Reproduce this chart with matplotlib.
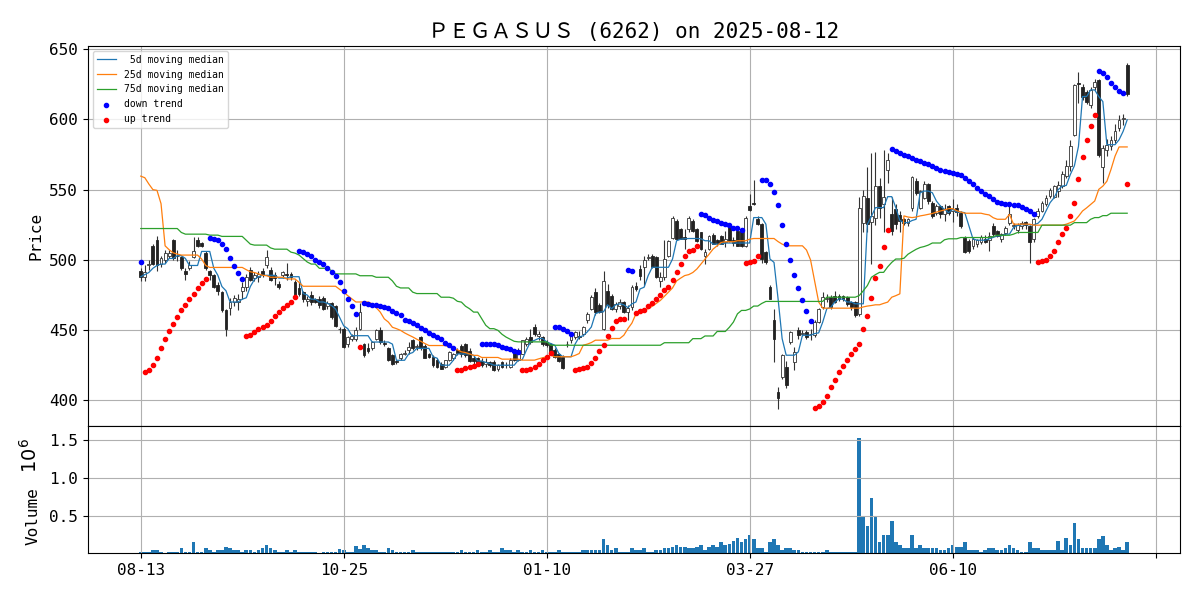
import numpy as np
import pandas as pd
import matplotlib
matplotlib.use("Agg")
import matplotlib.pyplot as plt

# ---------------- data ----------------
open_ = [
    492, 488, 496, 510, 514, 497, 500, 503, 514, 503,
    502, 492, 494, 502, 514, 512, 505, 492, 489, 482,
    477, 464, 466, 470, 470, 478, 481, 493, 487, 488,
    492, 496, 493, 489, 483, 489, 490, 490, 484, 480,
    477, 471, 475, 472, 472, 473, 467, 469, 467, 451,
    451, 440, 444, 444, 451, 440, 437, 437, 444, 450,
    441, 437, 432, 428, 430, 433, 436, 443, 438, 445,
    439, 433, 431, 428.5, 425.5, 424, 429, 430, 436, 439,
    440, 435, 430, 429.8, 428, 426, 427, 427.4, 422.2, 427.4,
    425, 424, 434.5, 428.6, 433.3, 440, 445, 452, 446, 445,
    441.6, 440.4, 435.7, 433, 431, 440, 443, 445, 446, 447.5,
    456.9, 465.2, 477, 467.5, 451, 478, 474.6, 465.2, 467, 469.9,
    463, 466.3, 481.7, 493.5, 495, 501, 503, 502, 485.2, 487.6,
    502.9, 515.9, 527.7, 522.3, 516, 521.8, 527.7, 522.3, 519.5, 503,
    507.7, 517.6, 514, 517, 513, 524, 514, 520.6, 521.8, 510,
    538.4, 540.7, 529.4, 525.4, 505.3, 480.5, 456.9, 406.2, 416.8, 423.9,
    441.6, 427.4, 449.8, 447, 448.6, 447, 446.3, 455.7, 466.3, 472,
    473.4, 474, 474.6, 474, 473.4, 469.9, 469.9, 461.6, 526.5, 544.3,
    527, 530, 552.5, 540, 564.3, 532.4, 536, 532, 528.9, 526.5,
    537.2, 556.5, 537.2, 544.3, 554.2, 540.7, 533.6, 538.3, 533, 538,
    535, 537, 533.6, 515.9, 513.6, 510, 511, 513, 515, 514,
    524.2, 520.6, 514.7, 519, 526.5, 524, 521, 524, 527, 524.2,
    514.7, 531.3, 535, 539.5, 545.5, 545, 549, 552.5, 560, 566.7,
    589.1, 625.7, 623.3, 619.8, 610.3, 623.3, 628, 566, 578, 580.8,
    585.5, 593.8, 600, 638.5,
]
high = [
    494, 496, 500, 511, 517, 503, 507, 507, 515, 507,
    503, 494, 499, 516, 516, 513, 506, 493, 490, 484,
    478, 465, 473, 475, 476, 484, 490, 495, 491, 492,
    494, 507, 495, 491, 485, 492, 498, 491, 486, 484,
    478, 474, 478, 473, 474, 474, 471, 470, 468, 452,
    452, 446, 447, 452, 469, 441, 441, 442, 451, 452,
    443, 438, 433, 429, 434, 436, 441.5, 444, 440, 446,
    440, 434, 432, 430, 427, 429, 435, 434, 437, 440,
    441, 437, 432, 431, 430, 430, 428, 429, 426, 428,
    427, 430, 436, 437, 443, 445, 451, 454, 449, 446,
    443, 441, 437, 434, 432, 442, 447, 449, 449, 453,
    463, 475, 480, 469, 492.3, 483, 476, 470, 472, 471,
    468, 482, 484, 496, 503, 504, 504, 503, 491, 514,
    514, 531, 529, 523, 522, 531, 529, 523, 520, 508,
    518, 519, 515, 518, 520.6, 525, 516, 522, 523, 531,
    546.6, 557.2, 531, 526, 506, 482, 465, 409.7, 433, 428,
    449, 438, 452, 450, 450, 451, 457, 466, 477, 476,
    475, 478, 476, 475, 474, 471, 471, 545, 550, 566,
    576, 577, 558, 578, 576, 545, 540, 535, 530, 530,
    560, 558, 550, 556, 555, 542, 540, 539, 540, 539,
    543, 540, 535, 517, 515, 516, 515, 518, 518, 520,
    526, 521, 519, 524, 539.5, 526, 526, 528, 528, 525,
    530, 537, 542, 546, 551, 553, 556, 563, 571, 585,
    625, 634, 625, 621, 623, 629, 629, 582, 586, 588,
    597, 603, 604, 640,
]
low = [
    485, 485, 493, 496, 492, 495, 498, 501, 500, 499,
    493, 486, 493, 501, 509, 509, 493, 486, 480, 475,
    463, 446, 461, 467, 464, 472, 478, 485, 485, 484,
    488, 494, 485, 482, 479, 487, 486, 486, 473, 474,
    470, 467, 468, 469, 466, 464, 465, 458, 452, 448,
    437, 438, 442, 442, 450, 431, 434, 436, 443, 440,
    439, 428, 425, 426, 429, 432, 433, 436, 436, 436,
    430, 430, 424, 423, 422, 423, 428, 429, 432, 431,
    431, 427, 426, 425, 424, 424, 424, 421, 421, 423,
    423, 423, 428, 428, 433, 439, 440, 446, 443, 439,
    438, 432, 430, 427, 422, 438, 441, 444, 444, 446,
    455, 464, 461, 462, 450, 466, 464, 463, 465, 462,
    457, 464, 478, 486, 481.7, 500, 494, 487, 481, 486,
    502, 515, 514, 515, 508, 520, 520, 513, 507, 497,
    507, 511, 510, 511, 508.8, 513, 510, 510, 509, 509,
    535, 539, 525, 498, 497, 472, 427.4, 394, 415, 409,
    440, 421.5, 444, 446, 444, 442.7, 445, 455, 465, 470,
    465, 469, 471, 471, 467, 464, 459, 460, 520, 520,
    497, 525, 530, 520, 555, 518, 522, 520, 525, 524,
    535, 546, 536, 543, 540, 530, 532, 530, 528, 532,
    527, 531, 523, 505, 505, 508, 509, 511, 512, 506,
    517, 516, 513, 518, 525, 522, 519, 522, 522, 498,
    513, 530, 534, 538, 544, 544, 545, 551, 558, 563,
    588, 611.5, 614, 611, 608, 621, 573, 555, 574, 578,
    583, 592, 596, 617,
]
close = [
    488, 491, 497, 497, 496, 501, 505, 505, 501, 503,
    494, 490, 496, 506, 510, 510, 494, 489, 481, 478,
    464, 451, 470, 473, 472, 481, 488, 486, 489, 490,
    489, 502, 486, 487, 481, 491, 489, 488, 475, 476,
    472, 472, 470, 470, 467.5, 465, 469, 459, 453, 451,
    438, 445, 446, 450, 463, 432, 435, 441.5, 450, 441.5,
    440, 428.5, 426, 427, 433, 434, 438, 437, 439, 437,
    430, 431, 425, 424, 422.6, 428.5, 434.5, 433, 434, 433,
    432, 428, 428, 426.2, 425, 427, 425, 421.5, 425, 424,
    425, 429, 428.6, 435.7, 442.7, 444, 441.6, 447.5, 447, 440.4,
    439.2, 433.3, 431, 428, 422.7, 440, 446, 448.7, 445, 452.2,
    461.6, 473.4, 462.8, 463, 485, 468, 465.2, 468.7, 470, 462.8,
    466, 480.5, 479.3, 488.8, 500, 502, 494.7, 487.6, 487.6, 500.6,
    513.6, 530.1, 514.7, 515.2, 515, 530, 520.6, 513.6, 507.7, 505.8,
    517.1, 511.2, 512, 511, 515, 513.6, 512, 510, 510, 530.1,
    535.5, 539.5, 525.4, 500.6, 498.2, 472.3, 443.9, 401.4, 432.1, 410.9,
    448.6, 434.5, 446.3, 448, 445.1, 447.5, 455.7, 465.2, 473.4, 473,
    466.3, 470, 472.2, 472, 468.7, 466.3, 461, 537.2, 545.5, 525.4,
    531, 552.5, 537.2, 545, 571.4, 520.6, 525.4, 528, 526.5, 528.9,
    558.9, 547.8, 549, 554.2, 541.9, 531.3, 538.3, 532.4, 536, 533.6,
    536, 534, 524.2, 505.3, 506.5, 515, 514, 516, 513, 517,
    518.3, 517.1, 518.3, 523, 532.4, 525, 524.5, 526, 525, 512.4,
    528.9, 534.8, 540.7, 544.3, 550, 552.5, 553, 560.8, 567, 580.8,
    624.5, 625, 616.3, 612.7, 621, 626.9, 575, 579.6, 582, 585.5,
    591.5, 599.7, 601, 618,
]
volume_k = [
    30, 30, 20, 45, 45, 30, 10, 20, 30, 20,
    70, 30, 30, 150, 30, 30, 70, 45, 30, 45,
    55, 95, 70, 55, 55, 30, 45, 45, 20, 45,
    70, 110, 70, 45, 30, 30, 45, 30, 45, 20,
    20, 20, 30, 20, 10, 20, 20, 20, 30, 65,
    50, 30, 30, 100, 65, 120, 70, 45, 55, 30,
    30, 70, 45, 30, 20, 20, 30, 45, 20, 20,
    30, 20, 30, 30, 30, 30, 30, 30, 20, 45,
    30, 20, 20, 45, 20, 20, 45, 30, 30, 80,
    55, 45, 30, 45, 30, 30, 45, 30, 30, 45,
    30, 30, 30, 45, 30, 30, 20, 20, 30, 45,
    45, 45, 50, 50, 200, 110, 50, 80, 30, 30,
    30, 70, 45, 45, 70, 30, 30, 55, 55, 80,
    70, 95, 110, 95, 95, 70, 80, 95, 110, 55,
    95, 120, 95, 150, 120, 135, 170, 210, 160, 200,
    250, 190, 80, 70, 30, 160, 200, 120, 55, 80,
    80, 55, 45, 30, 20, 30, 30, 30, 30, 55,
    20, 30, 30, 20, 20, 30, 30, 1530, 500, 360,
    730, 500, 150, 250, 250, 435, 150, 110, 80, 80,
    250, 80, 110, 70, 80, 70, 80, 55, 45, 70,
    110, 95, 95, 160, 45, 45, 45, 30, 45, 70,
    70, 45, 55, 80, 120, 70, 45, 20, 20, 160,
    70, 70, 55, 45, 55, 55, 170, 45, 210, 120,
    410, 200, 70, 70, 80, 70, 200, 240, 110, 45,
    70, 95, 55, 160,
]
med25 = [
    559.6, 558.5, 554, 550, 549.5, 540, 510, 507.2, 505, 504.1,
    503.4, 503.4, 503.4, 503.4, 503.4, 500.6, 496, 494.6, 494.6, 494.6,
    494.6, 494.6, 494.6, 494.6, 494.6, 494.6, 493, 491.5, 491, 490,
    489, 488.7, 487.6, 487.6, 487.6, 487.6, 486.4, 486.4, 486.4, 484,
    481.2, 481.2, 481.2, 481.2, 481.2, 481.2, 481.2, 481.2, 481.2, 479,
    477, 474.5, 472.2, 470, 470, 470, 470, 468.7, 466, 462.8,
    458, 455.7, 452, 451, 449.8, 448, 446.5, 445.1, 443.5, 442,
    440.4, 439, 439, 439, 439, 439, 438, 437, 436, 434.5,
    434, 433, 432, 432, 430.5, 430.5, 430.5, 430.5, 430.5, 429.3,
    429.3, 429.3, 429.3, 429.3, 428.6, 428.6, 428.6, 428.6, 429.5, 430.3,
    431, 432.1, 431, 431, 431, 431, 431, 432, 433.3, 439.2,
    440, 441.1, 442.8, 442.8, 442.8, 442.8, 444, 444, 444, 446.3,
    451, 455, 461.6, 463, 464.5, 465.2, 467, 469, 471.1, 474,
    477, 480, 485, 487, 488.8, 489.5, 491, 493.5, 497, 500.6,
    504, 507.7, 510, 512.4, 512.9, 512.9, 512.9, 513.6, 513.6, 513.6,
    514.7, 515.2, 515.2, 515.2, 515.2, 515.2, 515.2, 513, 511.2, 510,
    510, 510, 510, 510, 507, 500, 485, 470, 465.6, 465.6,
    465.6, 465.6, 465.6, 465.6, 465.6, 465.6, 465.6, 465.6, 466.5, 467.1,
    467.5, 468, 468, 469, 469.9, 473.4, 474.5, 475.8, 531.3, 530.5,
    530.1, 530.5, 531.3, 531.8, 532.4, 533, 534, 534.8, 535.5, 536.5,
    536.5, 535, 534.1, 533.2, 533.2, 533.2, 533.2, 533.2, 532.5, 532,
    530, 528.9, 528.9, 528.9, 532.4, 525.4, 525.4, 525.4, 525.4, 525.4,
    524.7, 524.7, 524.7, 524.7, 524.7, 524.7, 524.7, 524.7, 525.4, 526.5,
    527.7, 531, 534.8, 537, 539.5, 541.9, 550.2, 552.5, 556, 564.3,
    573.8, 580.4, 580.4, 580.4,
]
med75 = [
    522.3, 522.3, 522.3, 522.3, 522.3, 522.3, 522.3, 522.3, 522.3, 522.3,
    519.5, 518.3, 518.3, 518.3, 518.3, 518.3, 518.3, 517.6, 517.6, 517.6,
    516.7, 516.7, 516.7, 516.7, 516.7, 516.7, 514, 511.2, 510.5, 510.5,
    510.5, 510.5, 508.5, 507.6, 507.6, 507.6, 507.6, 505.5, 504.8, 503.4,
    501, 498.5, 497, 497, 494, 494, 494, 492.3, 490, 490,
    490, 490, 490, 490, 488.7, 488.7, 488.7, 488.7, 487.6, 487.6,
    487.6, 487.6, 485, 481.2, 480, 480, 480, 477, 476, 476,
    476, 476, 476, 476, 473.4, 473.4, 473.4, 472.7, 470.5, 469.9,
    467, 465.2, 462.8, 462.8, 458.1, 453.4, 451, 451, 449.8, 447,
    445, 443.5, 442, 441.6, 441.6, 441.6, 441.6, 441.6, 441.6, 441.6,
    441.6, 439.2, 439.2, 439.2, 439.2, 439.2, 439.2, 439.2, 439.2, 439.2,
    439.2, 439.2, 439.2, 439.2, 439.2, 439.2, 439.2, 439.2, 439.2, 439.2,
    439.2, 439.2, 439.2, 439.2, 439.2, 439.2, 439.2, 439.2, 439.2, 441,
    441, 441, 441, 441, 441, 441, 443.9, 443.9, 443.9, 445.8,
    445.8, 445.8, 449, 449, 449, 452, 455.7, 461.6, 464, 464,
    465, 467.1, 467.1, 469, 470.4, 470.4, 470.4, 470.4, 470.4, 470.4,
    470.4, 470.4, 470.4, 470.4, 470.4, 470.4, 470.4, 470.4, 470.4, 473.4,
    473.4, 473.4, 473.4, 473.4, 473.4, 473.4, 473.4, 474.6, 478, 481.7,
    487.6, 489.5, 491.1, 491.1, 495, 498.2, 500.6, 500.6, 501.1, 504,
    505.8, 507.5, 508.8, 509.5, 510.5, 512, 512, 512, 514.3, 515,
    515, 515, 515.9, 515.9, 515.9, 515.9, 515.9, 515.9, 515.9, 515.9,
    516.6, 517.5, 517.5, 517.5, 517.5, 518.3, 519.5, 519.5, 519.5, 519.5,
    519.5, 519.5, 524.7, 524.7, 524.7, 524.7, 524.7, 524.7, 524.7, 524.7,
    526.5, 526.5, 526.5, 526.5, 528.9, 530.1, 530.1, 531.5, 531.5, 533.2,
    533.2, 533.2, 533.2, 533.2,
]
sar = [
    498.2, 420.3, 421.5, 425, 430.2, 437.3, 443.4, 449.1, 454.5, 459.3,
    464, 468, 471.8, 475.8, 479.8, 483.6, 486.4, 515.9, 515.2, 514,
    511.2, 507.6, 501, 495.8, 490.6, 486.4, 445.8, 446.8, 448.7, 450.5,
    452.2, 453.8, 456.2, 460, 462.8, 465.6, 468, 470.3, 473.4, 506.4,
    505.7, 504.5, 502.9, 500.1, 498.2, 497, 493.9, 491.6, 488.3, 484,
    478.1, 472.2, 466.8, 461.6, 438, 469.4, 468.7, 468.2, 467.5, 466.8,
    466.3, 465.6, 463.9, 462.3, 460.4, 457.3, 456.4, 455, 453.3, 451.4,
    449.8, 448.1, 446.7, 445.1, 443.4, 441.1, 439.2, 437.5, 421.5, 421.5,
    422.7, 423.4, 424.6, 425.5, 440.4, 440.4, 440, 439.8, 439.2, 438,
    436.9, 436.2, 435.3, 434.6, 421.5, 421.5, 422.5, 424, 426, 428.5,
    431, 434, 452.5, 452, 451, 449.5, 447.5, 421.5, 422.2, 422.7,
    423.9, 426.7, 429.8, 435.2, 439.7, 445.8, 451.7, 456.2, 458.1, 458.1,
    493, 492.3, 462.3, 463.3, 464.5, 466.8, 469.4, 472.3, 475.1, 478.2,
    481, 486, 491.6, 496.8, 502.5, 506.5, 507.2, 510, 532.4, 531.7,
    530.1, 528.4, 527.7, 526.5, 525.4, 524.7, 523, 522.5, 521.4, 497.7,
    498.2, 499.4, 502.9, 557.2, 556.8, 553.7, 548.5, 538.8, 524.7, 511.2,
    499.9, 489.2, 479.8, 471.5, 463.3, 456.2, 394.8, 396.2, 399.1, 403.3,
    409.7, 414.4, 420.3, 424.6, 428.6, 432.8, 436.8, 440.1, 450.5, 460,
    472.7, 486.9, 495.9, 508.8, 521.6, 579.2, 577.8, 576.1, 574.9, 573.8,
    572.6, 571.4, 570.2, 569, 567.9, 566.7, 565.5, 564.3, 563.1, 562.4,
    561.9, 560.8, 560.1, 558.4, 556.1, 553.7, 551.3, 549, 547.1, 545.4,
    543.5, 541.2, 540.2, 539.5, 539.5, 539, 539, 537.9, 536.5, 534.8,
    532.9, 498.2, 498.9, 500.1, 502.5, 506.5, 512.4, 518.3, 523, 531.3,
    540.7, 557.7, 573.3, 585.1, 595, 603, 634.4, 632.8, 629.9, 626.2,
    623.3, 620.5, 618.6, 554.2,
]
# trend of each SAR dot, as (direction, number of days)
trend_runs = [("d", 1), ("u", 16), ("d", 9), ("u", 13), ("d", 15), ("u", 1),
              ("d", 23), ("u", 6), ("d", 10), ("u", 8), ("d", 5), ("u", 13),
              ("d", 2), ("u", 16), ("d", 11), ("u", 4), ("d", 13), ("u", 19),
              ("d", 36), ("u", 15), ("d", 7), ("u", 1)]
tick_pos = [0, 50, 100, 150, 200, 250]
tick_labels = ["08-13", "10-25", "01-10", "03-27", "06-10", ""]
title = "ＰＥＧＡＳＵＳ (6262) on 2025-08-12"

# ---------------- checks ----------------
n = len(close)
for name, arr in [("open", open_), ("high", high), ("low", low),
                  ("volume", volume_k), ("med25", med25), ("med75", med75),
                  ("sar", sar)]:
    if len(arr) != n:
        raise SystemExit(f"{name} has {len(arr)} values, expected {n}")
trend = []
for d, k in trend_runs:
    trend += [d] * k
if len(trend) != n:
    raise SystemExit(f"trend has {len(trend)} values, expected {n}")

# ---------------- plotting ----------------
plt.rcParams["font.family"] = ["DejaVu Sans Mono", "Noto Sans CJK JP"]
plt.rcParams["font.size"] = 11.5

o = np.array(open_, float)
h = np.array(high, float)
l = np.array(low, float)
c = np.array(close, float)
v = np.array(volume_k, float) * 1000
s = np.array(sar, float)
tr = np.array(trend)
x = np.arange(n)
med5 = pd.Series(c).rolling(5, min_periods=1).median().values

fig = plt.figure(figsize=(12, 6), dpi=100)
ax1 = fig.add_axes([0.0733, 0.29, 0.91, 0.6334])
ax2 = fig.add_axes([0.0733, 0.0783, 0.91, 0.2117], sharex=ax1)

# candles
ax1.vlines(x, l, h, color="#333333", lw=0.8, zorder=2)
up = c >= o
ax1.bar(x[up], (c - o)[up], bottom=o[up], width=0.7, color="white",
        edgecolor="#333333", linewidth=0.6, zorder=3)
ax1.bar(x[~up], (o - c)[~up], bottom=c[~up], width=0.7, color="#222222",
        edgecolor="#222222", linewidth=0.6, zorder=3)

ax1.plot(x, med5, color="tab:blue", lw=0.9, label=" 5d moving median", zorder=4)
ax1.plot(x, med25, color="tab:orange", lw=0.9, label="25d moving median", zorder=4)
ax1.plot(x, med75, color="tab:green", lw=0.9, label="75d moving median", zorder=4)
dn = tr == "d"
ax1.scatter(x[dn], s[dn], s=9, color="blue", label="down trend", zorder=5)
ax1.scatter(x[~dn], s[~dn], s=9, color="red", label="up trend", zorder=5)

ax1.set_xlim(-13, 256)
ax1.grid(True)
ax1.set_ylabel("Price")
ax1.set_title(title, fontsize=15)
ax1.legend(loc="upper left", fontsize=7)
plt.setp(ax1.get_xticklabels(), visible=False)

# volume
ax2.bar(x, v, width=0.9, color="tab:blue")
ax2.set_ylim(v.min(), v.max() * 1.1)
ax2.grid(True)
ax2.set_ylabel("Volume")
ax2.yaxis.set_label_coords(-0.043, 0.29)
ax2.set_xticks(tick_pos)
ax2.set_xticklabels(tick_labels)
ax2.yaxis.get_offset_text().set_visible(False)
fig.text(0.025, 0.24, r"$10^6$", rotation=90, fontsize=14,
         ha="center", va="center")

fig.savefig("out.png", dpi=100)
